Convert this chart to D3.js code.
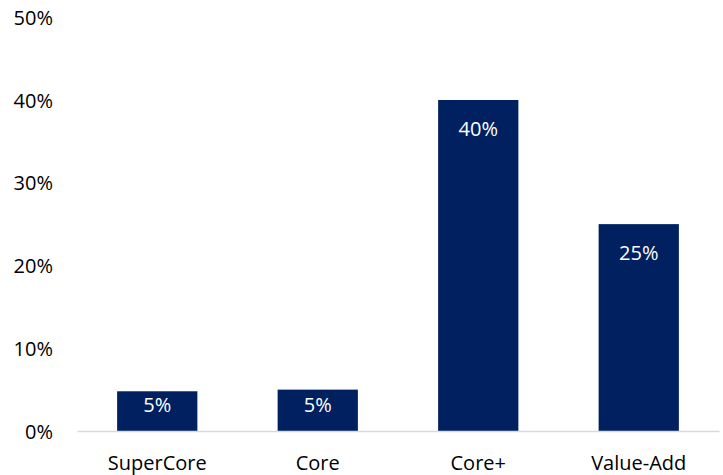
<!DOCTYPE html>
<html>
<head>
<meta charset="utf-8">
<script src="https://cdn.jsdelivr.net/npm/d3@7/dist/d3.min.js"></script>
<style>
  html, body { margin: 0; padding: 0; background: #ffffff; }
  svg { display: block; }
  text { font-family: "Open Sans", "DejaVu Sans", sans-serif; font-size: 20px; }
</style>
</head>
<body>
<svg id="chart" width="723" height="475"></svg>
<script>
// Allocation by strategy
const categories = ["SuperCore", "Core", "Core+", "Value-Add"];
const shares = [0.048, 0.05, 0.40, 0.25];
const yTicks = [0, 0.1, 0.2, 0.3, 0.4, 0.5];

const svg = d3.select("#chart");
const W = 723, H = 475;
const x0 = 77, x1 = 719, yBottom = 431, yTop = 17.25;

const x = d3.scaleBand()
  .domain(categories)
  .range([x0, x1])
  .paddingInner(0.5)
  .paddingOuter(0.25);

const y = d3.scaleLinear()
  .domain([0, 0.5])
  .range([yBottom, yTop]);

const pct = d3.format(".0%");

// y tick labels (no axis line, no gridlines)
svg.append("g")
  .selectAll("text")
  .data(yTicks)
  .join("text")
  .attr("x", 53)
  .attr("y", d => y(d) + 7.5)
  .attr("text-anchor", "end")
  .attr("fill", "#000")
  .text(d => pct(d));

// bars
const data = categories.map((c, i) => ({ c, v: shares[i] }));

svg.append("g")
  .selectAll("rect")
  .data(data)
  .join("rect")
  .attr("x", d => x(d.c))
  .attr("y", d => y(d.v))
  .attr("width", x.bandwidth())
  .attr("height", d => y(0) - y(d.v))
  .attr("fill", "#002060");

// value labels inside the bar ends
svg.append("g")
  .selectAll("text")
  .data(data)
  .join("text")
  .attr("x", d => x(d.c) + x.bandwidth() / 2)
  .attr("y", d => Math.min(y(d.v) + 35.5, y(0) - 19.5))
  .attr("text-anchor", "middle")
  .attr("fill", "#ffffff")
  .text(d => pct(d.v));

// category axis
const xAxis = svg.append("g")
  .attr("transform", `translate(0,${yBottom})`)
  .call(d3.axisBottom(x).tickSize(0).tickPadding(0));
xAxis.select(".domain")
  .attr("stroke", "#d9d9d9")
  .attr("stroke-width", 1.5);
xAxis.selectAll("text")
  .attr("y", 38.5)
  .attr("dy", null)
  .attr("fill", "#000")
  .style("font-family", '"Open Sans", "DejaVu Sans", sans-serif')
  .style("font-size", "20px");
</script>
</body>
</html>
